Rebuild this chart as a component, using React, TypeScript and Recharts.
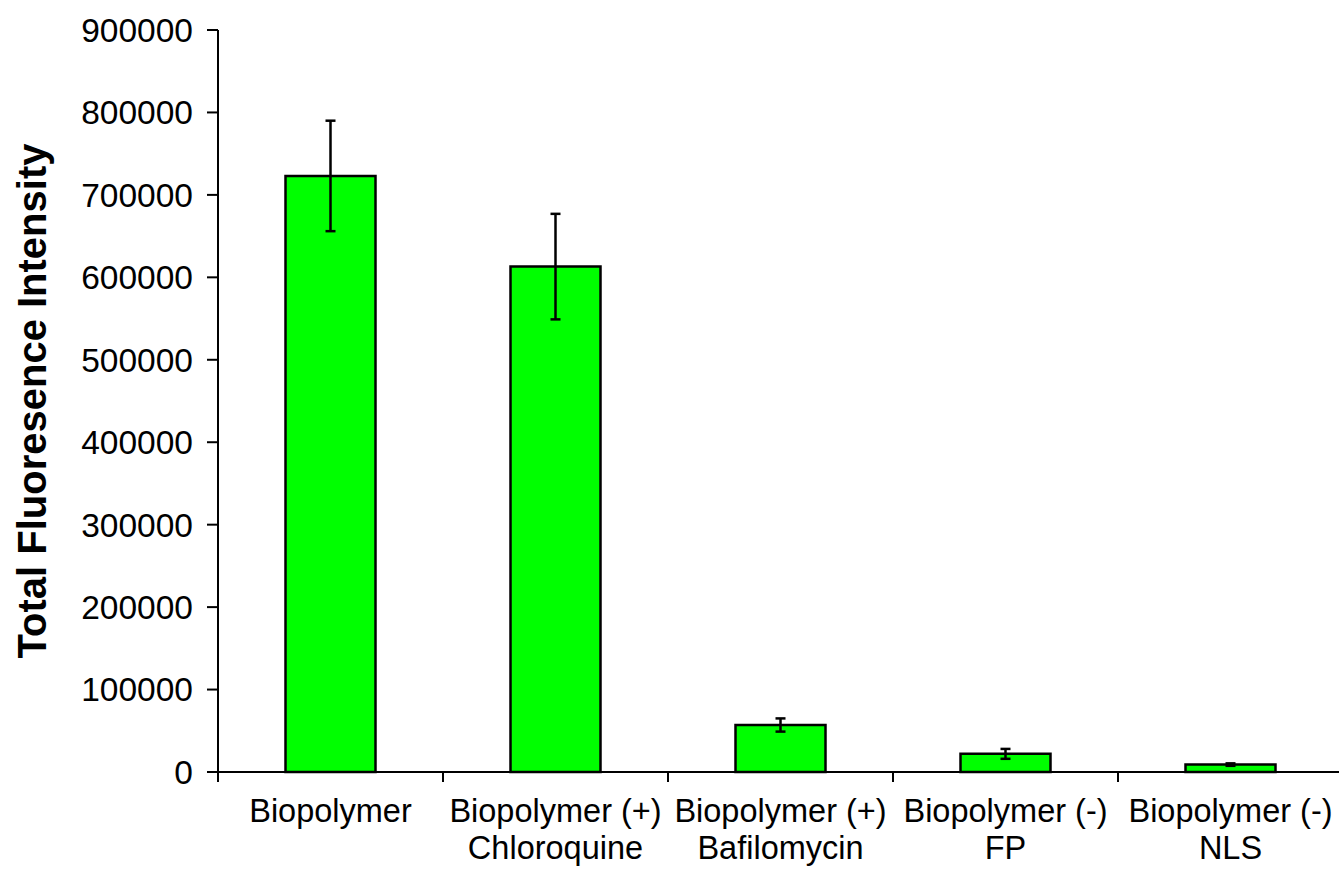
import { BarChart, Bar, XAxis, YAxis, ErrorBar } from "recharts";

const categories = [
  "Biopolymer",
  "Biopolymer (+)\nChloroquine",
  "Biopolymer (+)\nBafilomycin",
  "Biopolymer (-)\nFP",
  "Biopolymer (-)\nNLS",
];
const intensity = [723000, 613000, 57000, 22000, 9000];
const errors = [67000, 64000, 8000, 6000, 1500];
const yTicks = [0, 100000, 200000, 300000, 400000, 500000, 600000, 700000, 800000, 900000];

const data = categories.map((name, i) => ({ name, value: intensity[i], err: errors[i] }));

const FONT = "'Liberation Sans', Arial, Helvetica, sans-serif";

function CategoryTick(props: any) {
  const { x, y, payload } = props;
  const off = payload.offset ?? 0;
  const lines = String(payload.value).split("\n");
  return (
    <g>
      <line x1={x - off} y1={y} x2={x - off} y2={y + 10} stroke="#000" strokeWidth={2} />
      <text x={x} y={y + 50} textAnchor="middle" fontSize={32.5} fontFamily={FONT} fill="#000">
        {lines.map((l, i) => (
          <tspan key={i} x={x} dy={i === 0 ? 0 : 37}>
            {l}
          </tspan>
        ))}
      </text>
    </g>
  );
}

function YTitle(props: any) {
  const vb = props.viewBox;
  const cx = vb.x + 32;
  const cy = vb.y + vb.height / 2;
  return (
    <text
      x={cx}
      y={cy}
      transform={`rotate(-90 ${cx} ${cy})`}
      textAnchor="middle"
      dominantBaseline="central"
      fontSize={40}
      fontWeight="bold"
      fontFamily={FONT}
      fill="#000"
    >
      Total Fluoresence Intensity
    </text>
  );
}

export default function App() {
  return (
    <div style={{ position: "absolute", left: 0, top: 0, width: 1339, height: 869, overflow: "hidden", background: "#fff" }}>
      <BarChart
        width={1343}
        height={869}
        data={data}
        margin={{ top: 30, right: 0, bottom: 0, left: 0 }}
        barCategoryGap="30%"
      >
        <XAxis
          dataKey="name"
          height={97}
          stroke="#000"
          strokeWidth={2}
          tickLine={false}
          tickSize={0}
          tickMargin={0}
          interval={0}
          tick={<CategoryTick />}
        />
        <YAxis
          width={218}
          domain={[0, 900000]}
          ticks={yTicks}
          interval={0}
          stroke="#000"
          strokeWidth={2}
          tickSize={11}
          tickMargin={14}
          tick={{ fontSize: 33.5, fontFamily: FONT, fill: "#000" }}
          tickLine={{ stroke: "#000", strokeWidth: 2 }}
          label={{ content: <YTitle /> }}
        />
        <Bar dataKey="value" fill="#00ff00" stroke="#000" strokeWidth={2.5} isAnimationActive={false}>
          <ErrorBar dataKey="err" width={5} stroke="#000" strokeWidth={2.5} isAnimationActive={false} />
        </Bar>
      </BarChart>
    </div>
  );
}
